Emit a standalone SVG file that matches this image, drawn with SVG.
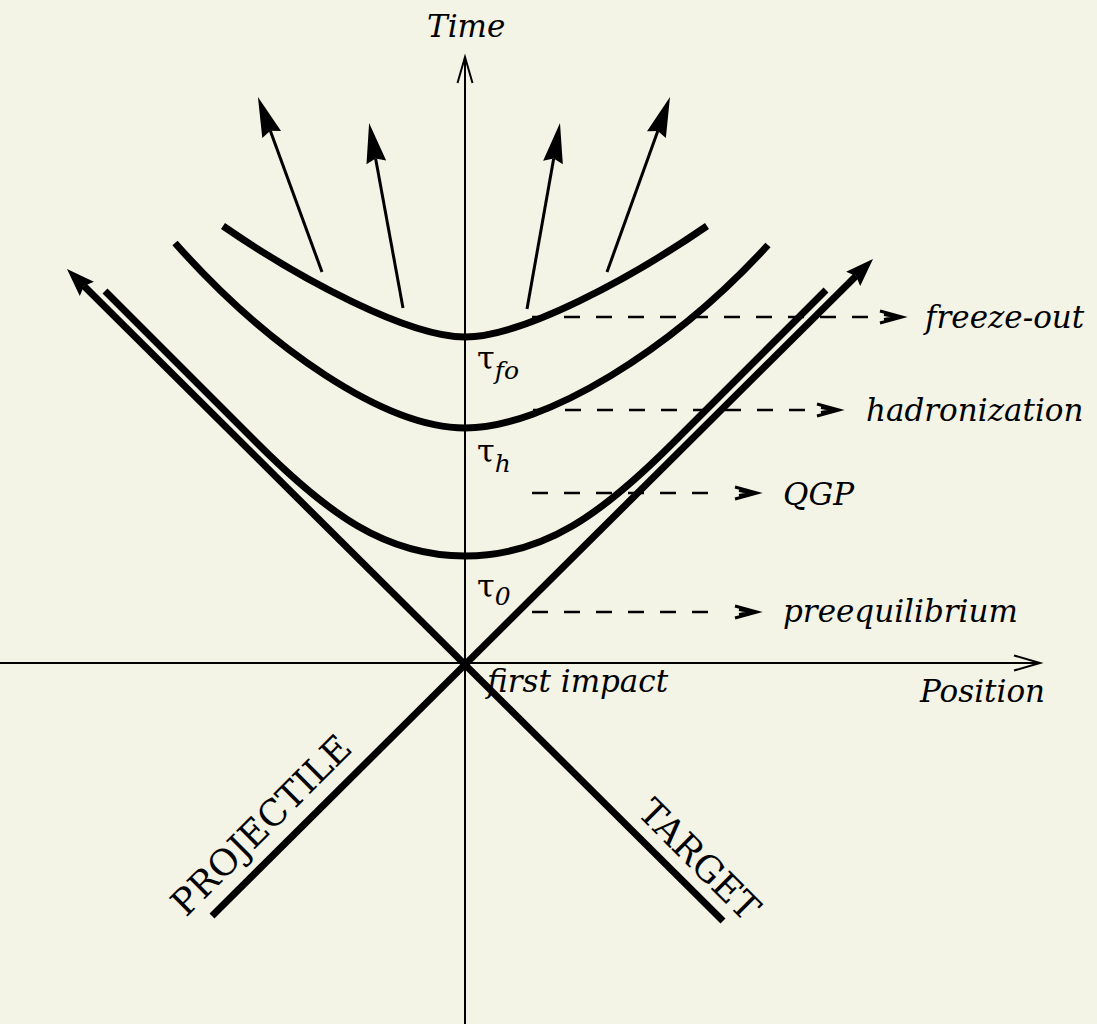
<svg xmlns="http://www.w3.org/2000/svg" width="1097" height="1024" viewBox="0 0 1097 1024">
<style>
.axis{stroke:#000;stroke-width:2;fill:none}
.thick{stroke:#000;stroke-width:7;fill:none}
.thin{stroke:#000;stroke-width:3;fill:none}
.dash{stroke:#000;stroke-width:2.5;fill:none;stroke-dasharray:16 16}
.lbl{font-family:"DejaVu Serif","Liberation Serif",serif;font-style:italic;font-size:31px;fill:#000}
.tau{font-family:"DejaVu Serif","Liberation Serif",serif;font-size:32px;fill:#000}
.sub{font-style:italic;font-size:25px}
.caps{font-family:"DejaVu Serif","Liberation Serif",serif;font-size:36px;fill:#000}
</style>
<defs>
<marker id="big" markerUnits="userSpaceOnUse" viewBox="0 -12 30 24" markerWidth="30" markerHeight="24" refX="4" refY="0" orient="auto" overflow="visible"><path d="M0,-10 L28,0 L0,10 L4,0 Z" fill="#000"/></marker>
<marker id="arr" markerUnits="userSpaceOnUse" viewBox="0 -12 42 24" markerWidth="42" markerHeight="24" refX="4" refY="0" orient="auto" overflow="visible"><path d="M0,-10 L40,0 L0,10 L4,0 Z" fill="#000"/></marker>
<marker id="vee" markerUnits="userSpaceOnUse" viewBox="-28 -10 30 20" markerWidth="30" markerHeight="20" refX="0" refY="0" orient="auto" overflow="visible"><path d="M-26,-7.5 L0,0 L-26,7.5" fill="none" stroke="#000" stroke-width="2"/></marker>
<marker id="dh" markerUnits="userSpaceOnUse" viewBox="0 -8 36 16" markerWidth="36" markerHeight="16" refX="0" refY="0" orient="auto" overflow="visible"><path d="M12,-6 L34,0 L12,6 M16,-2.5 L30,0 L16,2.5" fill="none" stroke="#000" stroke-width="3"/></marker>
</defs>
<rect x="0" y="0" width="1097" height="1024" fill="#f3f3e6"/>
<g id="connectors">
<line id="time-axis" class="axis" x1="465" y1="1024" x2="465" y2="57" marker-end="url(#vee)"/>
<line id="position-axis" class="axis" x1="0" y1="663" x2="1040" y2="663" marker-end="url(#vee)"/>
<line id="projectile-line" class="thick" x1="212" y1="916" x2="856" y2="276" marker-end="url(#big)"/>
<line id="target-line" class="thick" x1="723" y1="921" x2="84" y2="286" marker-end="url(#big)"/>
<path id="tau0-curve" class="thick" d="M105,291 L257,443 C327,513 385,556 465,556 C545,556 603,513 673,443 L826,290"/>
<path id="tauh-curve" class="thick" d="M175,243 C268,348 385,428 465,428 C545,428 672,350 768,245"/>
<path id="taufo-curve" class="thick" d="M223,226 C300,279 408,337 465,337 C522,337 630,279 707,226"/>
<line class="thin" x1="322" y1="272" x2="270.3" y2="130.8" marker-end="url(#arr)"/>
<line class="thin" x1="403" y1="308" x2="375.6" y2="158.4" marker-end="url(#arr)"/>
<line class="thin" x1="527" y1="309" x2="553.7" y2="158.5" marker-end="url(#arr)"/>
<line class="thin" x1="607" y1="272" x2="657.8" y2="130.9" marker-end="url(#arr)"/>
<line class="dash" x1="532" y1="317" x2="868" y2="317" marker-end="url(#dh)"/>
<line class="dash" x1="533" y1="410" x2="805" y2="410" marker-end="url(#dh)"/>
<line class="dash" x1="532" y1="493" x2="723" y2="493" marker-end="url(#dh)"/>
<line class="dash" x1="532" y1="612" x2="723" y2="612" marker-end="url(#dh)"/>
</g>
<g id="label-time"><text class="lbl" x="427" y="37">Time</text></g>
<g id="label-position"><text class="lbl" x="920" y="702">Position</text></g>
<g id="label-first-impact"><text class="lbl" x="487" y="692">first impact</text></g>
<g id="label-freeze-out"><text class="lbl" x="925" y="328">freeze-out</text></g>
<g id="label-hadronization"><text class="lbl" x="866" y="421">hadronization</text></g>
<g id="label-qgp"><text class="lbl" x="783" y="505">QGP</text></g>
<g id="label-preequilibrium"><text class="lbl" x="783" y="622">preequilibrium</text></g>
<g id="label-taufo"><text class="tau" x="477" y="369">τ<tspan class="sub" dy="10">fo</tspan></text></g>
<g id="label-tauh"><text class="tau" x="477" y="462">τ<tspan class="sub" dy="10">h</tspan></text></g>
<g id="label-tau0"><text class="tau" x="477" y="597">τ<tspan class="sub" dy="8">0</tspan></text></g>
<g id="label-projectile"><text class="caps" transform="translate(186,918) rotate(-45)">PROJECTILE</text></g>
<g id="label-target"><text class="caps" transform="translate(636,814) rotate(45)">TARGET</text></g>
</svg>
